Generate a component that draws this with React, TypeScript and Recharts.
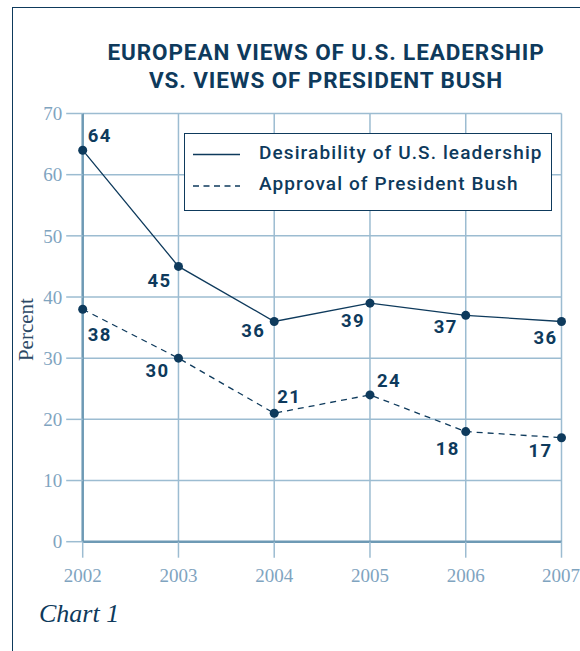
import { LineChart, Line, XAxis, YAxis, CartesianGrid, Legend } from "recharts";

const years = [2002, 2003, 2004, 2005, 2006, 2007];
const leadership = [64, 45, 36, 39, 37, 36];
const bushApproval = [38, 30, 21, 24, 18, 17];
const yTicks = [0, 10, 20, 30, 40, 50, 60, 70];

const SERIES_NAMES = {
  leadership: "Desirability of U.S. leadership",
  bush: "Approval of President Bush",
};

// where each value label sits relative to its point: [dx to centre, dy to baseline]
const LABEL_OFFSETS: Record<string, number[][]> = {
  leadership: [[17, -8], [-19, 21], [-21, 16], [-17, 24], [-20, 18], [-16, 23]],
  bush: [[17, 32], [-21, 19], [15, -10], [19, -8], [-18, 23], [-21, 19]],
};

const NAVY = "#0e3a5c";
const GRID = "#9cbcd1";
const AXIS = "#6e9ab5";
const TICK_TEXT = "#7fa4bf";
const SERIF = "'Liberation Serif', 'Times New Roman', serif";
const SANS = "Roboto, 'Noto Sans', sans-serif";

const data = years.map((year, i) => ({
  year,
  leadership: leadership[i],
  bush: bushApproval[i],
}));

function makeLabel(key: string) {
  return (props: any) => {
    const { x, y, value, index } = props;
    const [dx, dy] = LABEL_OFFSETS[key][index];
    return (
      <text
        key={`${key}-${index}`}
        x={x + dx}
        y={y + dy}
        textAnchor="middle"
        fill={NAVY}
        fontFamily={SANS}
        fontWeight={700}
        fontSize={18.5}
        letterSpacing={1.4}
      >
        {value}
      </text>
    );
  };
}

function LegendBox() {
  return (
    <div
      style={{
        width: 368,
        height: 78,
        border: `1.5px solid ${NAVY}`,
        background: "#fff",
        boxSizing: "border-box",
        fontFamily: SANS,
        fontWeight: 500,
        fontSize: 19,
        color: NAVY,
        position: "relative",
      }}
    >
      <svg width={60} height={78} style={{ position: "absolute", left: 0, top: 0 }}>
        <line x1={8} x2={55} y1={20.5} y2={20.5} stroke={NAVY} strokeWidth={1.3} />
        <line x1={8} x2={55} y1={52} y2={52} stroke={NAVY} strokeWidth={1.3} strokeDasharray="6 4.5" />
      </svg>
      <div style={{ position: "absolute", left: 74, top: 7, whiteSpace: "nowrap", letterSpacing: 1.1 }}>
        {SERIES_NAMES.leadership}
      </div>
      <div style={{ position: "absolute", left: 74, top: 38, whiteSpace: "nowrap", letterSpacing: 1.1 }}>
        {SERIES_NAMES.bush}
      </div>
    </div>
  );
}

export default function App() {
  return (
    <div
      style={{
        position: "absolute",
        left: 0,
        top: 0,
        width: 580,
        height: 651,
        overflow: "hidden",
        background: "#fff",
      }}
    >
      <div
        style={{
          position: "absolute",
          left: 11.5,
          top: 7,
          width: 620,
          height: 700,
          borderLeft: `1.5px solid ${NAVY}`,
          borderTop: `1.5px solid ${NAVY}`,
        }}
      />
      <div
        style={{
          position: "absolute",
          left: 0,
          width: 652,
          top: 38,
          textAlign: "center",
          fontFamily: SANS,
          fontWeight: 700,
          fontSize: 22.5,
          letterSpacing: 0.9,
          lineHeight: "28px",
          color: NAVY,
        }}
      >
        EUROPEAN VIEWS OF U.S. LEADERSHIP
        <br />
        VS. VIEWS OF PRESIDENT BUSH
      </div>
      <LineChart
        width={580}
        height={651}
        data={data}
        margin={{ top: 113.5, right: 18.5, bottom: 69.3, left: 12.7 }}
      >
        <CartesianGrid stroke={GRID} strokeWidth={1.5} />
        <XAxis
          dataKey="year"
          type="number"
          domain={[2002, 2007]}
          ticks={years}
          height={40}
          stroke={AXIS}
          strokeWidth={2.5}
          tickSize={16}
          tickMargin={11}
          tickLine={{ stroke: GRID, strokeWidth: 1.5 }}
          tick={{ fill: TICK_TEXT, fontFamily: SERIF, fontSize: 19 }}
        />
        <YAxis
          domain={[0, 70]}
          ticks={yTicks}
          width={70}
          stroke={AXIS}
          strokeWidth={2.5}
          tickSize={16.5}
          tickMargin={4}
          tickLine={{ stroke: GRID, strokeWidth: 1.5 }}
          tick={{ fill: TICK_TEXT, fontFamily: SERIF, fontSize: 19 }}
          label={(props: any) => {
            const vb = props.viewBox;
            const cx = 26;
            const cy = vb.y + vb.height / 2 + 2;
            return (
              <text
                x={cx}
                y={cy}
                transform={`rotate(-90 ${cx} ${cy})`}
                textAnchor="middle"
                dominantBaseline="central"
                fill="#2d4a66"
                fontFamily={SERIF}
                fontSize={21}
              >
                Percent
              </text>
            );
          }}
        />
        <Legend
          layout="vertical"
          align="center"
          verticalAlign="middle"
          wrapperStyle={{ left: 184, top: 133, width: 368, height: 78 }}
          content={() => <LegendBox />}
        />
        <Line
          dataKey="leadership"
          name={SERIES_NAMES.leadership}
          type="linear"
          stroke={NAVY}
          strokeWidth={1.3}
          dot={{ r: 4.5, fill: NAVY, stroke: "none" }}
          label={makeLabel("leadership")}
          isAnimationActive={false}
        />
        <Line
          dataKey="bush"
          name={SERIES_NAMES.bush}
          type="linear"
          stroke={NAVY}
          strokeWidth={1.3}
          strokeDasharray="6 5"
          dot={{ r: 4.5, fill: NAVY, stroke: "none", strokeDasharray: "" }}
          label={makeLabel("bush")}
          isAnimationActive={false}
        />
      </LineChart>
      <div
        style={{
          position: "absolute",
          left: 39,
          top: 599,
          fontFamily: SERIF,
          fontStyle: "italic",
          fontSize: 26,
          color: NAVY,
        }}
      >
        Chart 1
      </div>
    </div>
  );
}
